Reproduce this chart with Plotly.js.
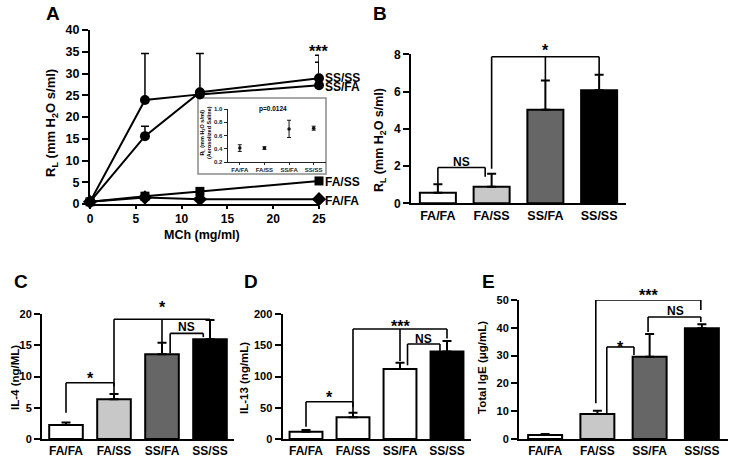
<!DOCTYPE html>
<html>
<head>
<meta charset="utf-8">
<script src="https://cdn.plot.ly/plotly-3.0.1.min.js"></script>
<style>html,body{margin:0;padding:0;background:#fff;}#chart{width:729px;height:459px;}</style>
</head>
<body>
<div id="chart"></div>
<script>
// ---------------- DATA ----------------
const groups = ['FA/FA', 'FA/SS', 'SS/FA', 'SS/SS'];

// Panel A: dose response
const mchDose = [0, 6, 12, 25];
const aSSSS = [0.5, 15.6, 25.7, 28.9];
const aSSSSerr = [0, 2.3, 0, 5.3];
const aSSFA = [0.5, 23.9, 25.2, 27.3];
const aSSFAerr = [0, 10.7, 9.4, 5.3];
const aFASS = [0.5, 1.8, 2.9, 5.3];
const aFAFA = [0.5, 1.5, 1.1, 1.1];
const aTicksX = [0, 5, 10, 15, 20, 25];
const aTicksY = [0, 5, 10, 15, 20, 25, 30, 35, 40];

// Inset: aerosolized saline
const insetVals = [0.41, 0.41, 0.70, 0.71];
const insetErr = [0.05, 0.02, 0.13, 0.03];
const insetTicks = [0.2, 0.4, 0.6, 0.8, 1.0];
const insetTickText = ['0.2', '0.4', '0.6', '0.8', '1.0'];

// Panel B: RL
const bVals = [0.57, 0.89, 5.02, 6.07];
const bErr = [0.45, 0.69, 1.57, 0.83];
const bTicks = [0, 2, 4, 6, 8];

// Panel C: IL-4
const cVals = [2.25, 6.35, 13.55, 15.95];
const cErr = [0.4, 0.85, 1.85, 3.1];
const cTicks = [0, 5, 10, 15, 20];

// Panel D: IL-13
const dVals = [11.5, 35, 112, 140];
const dErr = [2.8, 7, 10, 17];
const dTicks = [0, 50, 100, 150, 200];

// Panel E: Total IgE
const eVals = [1.45, 9.0, 29.6, 39.8];
const eErr = [0.35, 1.2, 8.2, 1.5];
const eTicks = [0, 10, 20, 30, 40, 50];

// significance brackets
const sigB = [
  {x: [0, 0.88], y: [1.05, 1.42], top: 1.92, label: 'NS', lx: 0.44, ly: 2.22},
  {x: [1.0, 3.0], y: [1.85, 6.92], top: 7.87, mid: [2.0, 6.62], label: '*', lx: 2.0, ly: 8.42}
];
const sigC = [
  {x: [0, 1], y: [4.2, 7.3], top: 9.0, label: '*', lx: 0.5, ly: 10.4},
  {x: [1, 3], y: [8.4, 17.7], top: 19.15, mid: [2.0, 15.4], label: '*', lx: 2.0, ly: 21.7},
  {x: [2.17, 2.86], y: [13.7, 16.3], top: 16.9, label: 'NS', lx: 2.5, ly: 18.0}
];
const sigD = [
  {x: [0, 1], y: [19.7, 50.7], top: 59.7, label: '*', lx: 0.5, ly: 73},
  {x: [1, 3], y: [41, 161], top: 176, mid: [2.0, 125], label: '***', lx: 2.0, ly: 186},
  {x: [2.16, 2.85], y: [118, 141], top: 152, label: 'NS', lx: 2.5, ly: 159.5}
];
const sigE = [
  {x: [0.97, 2.98], y: [12.9, 46.4], top: 50, label: '***', lx: 1.97, ly: 53.2},
  {x: [1.18, 1.70], y: [9.35, 30.2], top: 33.1, label: '*', lx: 1.44, ly: 34.5},
  {x: [1.97, 2.98], y: [38.5, 42.1], top: 43.9, label: 'NS', lx: 2.5, ly: 46}
];

// ---------------- LAYOUT HELPERS ----------------
const W = 729, H = 459;
const px = v => v / W;
const py = v => 1 - v / H;
const FONT = 'Liberation Sans, Arial, sans-serif';
const barColors = ['#ffffff', '#c8c8c8', '#666666', '#000000'];
const barColorsD = ['#ffffff', '#ffffff', '#ffffff', '#000000'];

function errUp(arr, w, th) {
  return {type: 'data', symmetric: false, array: arr, arrayminus: arr.map(() => 0),
          color: '#000', thickness: th || 2, width: w || 4, visible: true};
}

const traces = [];
function lineTrace(y, err, symbol, size) {
  const t = {x: mchDose, y: y, xaxis: 'x', yaxis: 'y', type: 'scatter', mode: 'lines+markers',
    line: {color: '#000', width: 2}, marker: {color: '#000', symbol: symbol, size: size},
    cliponaxis: false, hoverinfo: 'skip'};
  if (err) t.error_y = errUp(err, 4, 1.5);
  return t;
}
traces.push(lineTrace(aFAFA, null, 'diamond', 11));
traces.push(lineTrace(aFASS, null, 'square', 9));
traces.push(lineTrace(aSSFA, aSSFAerr, 'circle', 10));
traces.push(lineTrace(aSSSS, aSSSSerr, 'circle', 10));

// inset
traces.push({x: groups, y: insetVals, xaxis: 'x2', yaxis: 'y2', type: 'scatter', mode: 'markers',
  marker: {color: '#111', size: 3.5, symbol: 'circle'},
  error_y: {type: 'data', array: insetErr, color: '#111', thickness: 1, width: 2},
  cliponaxis: false, hoverinfo: 'skip'});

function barTrace(vals, err, colors, xa, ya, width) {
  return {x: groups, y: vals, xaxis: xa, yaxis: ya, type: 'bar', width: width,
    marker: {color: colors, line: {color: '#000', width: 2}},
    error_y: errUp(err, 4.5, 2), cliponaxis: false, hoverinfo: 'skip'};
}
traces.push(barTrace(bVals, bErr, barColors, 'x3', 'y3', 0.67));
traces.push(barTrace(cVals, cErr, barColors, 'x4', 'y4', 0.7));
traces.push(barTrace(dVals, dErr, barColorsD, 'x5', 'y5', 0.7));
traces.push(barTrace(eVals, eErr, barColors, 'x6', 'y6', 0.65));

function numAxis(domain, range, tickvals, anchor, fs, extra) {
  return Object.assign({domain: domain, range: range, tickvals: tickvals, ticktext: tickvals.map(String),
    anchor: anchor, showline: true, linecolor: '#000', linewidth: 2, ticks: 'outside', ticklen: 6,
    tickwidth: 2, tickcolor: '#000', showgrid: false, zeroline: false, fixedrange: true,
    tickfont: {family: FONT, size: fs, color: '#000', weight: 'bold'}}, extra || {});
}
function catAxis(domain, anchor, fs) {
  return {domain: domain, type: 'category', range: [-0.5, 3.5], anchor: anchor, showline: true,
    linecolor: '#000', linewidth: 2, ticks: '', showgrid: false, zeroline: false, fixedrange: true,
    tickfont: {family: FONT, size: fs, color: '#000', weight: 'bold'}};
}

const layout = {
  width: W, height: H, margin: {l: 0, r: 0, t: 0, b: 0}, showlegend: false,
  paper_bgcolor: '#fff', plot_bgcolor: 'rgba(0,0,0,0)',
  font: {family: FONT, color: '#000'},
  // Panel A
  xaxis: numAxis([px(90), px(319)], [0, 25], aTicksX, 'y', 12, {ticklen: 3}),
  yaxis: numAxis([py(204), py(30)], [0, 40], aTicksY, 'x', 12.5),
  // Inset
  xaxis2: {domain: [px(227.5), px(326)], type: 'category', range: [-0.5, 3.5], anchor: 'y2',
    showline: true, linecolor: '#222', linewidth: 1, ticks: 'outside', ticklen: 2, tickwidth: 1,
    tickcolor: '#222', showgrid: false, zeroline: false, fixedrange: true,
    tickfont: {family: FONT, size: 6, color: '#222', weight: 'bold'}},
  yaxis2: {domain: [py(162), py(109)], range: [0.2, 1.0], anchor: 'x2', tickvals: insetTicks,
    ticktext: insetTickText, showline: true, linecolor: '#222', linewidth: 1, ticks: 'outside',
    ticklen: 3, tickwidth: 1, tickcolor: '#222', showgrid: false, zeroline: false, fixedrange: true,
    tickfont: {family: FONT, size: 6, color: '#222', weight: 'bold'}},
  // Panel B
  xaxis3: catAxis([px(411), px(626)], 'y3', 12.5),
  yaxis3: numAxis([py(203.3), py(54.3)], [0, 8], bTicks, 'x3', 12),
  // Panel C
  xaxis4: catAxis([px(42), px(234)], 'y4', 12),
  yaxis4: numAxis([py(439), py(314)], [0, 20], cTicks, 'x4', 11),
  // Panel D
  xaxis5: catAxis([px(282.5), px(470.5)], 'y5', 12),
  yaxis5: numAxis([py(439), py(314)], [0, 200], dTicks, 'x5', 11),
  // Panel E
  xaxis6: catAxis([px(519), px(728)], 'y6', 12),
  yaxis6: numAxis([py(439), py(300)], [0, 50], eTicks, 'x6', 11),
  shapes: [],
  annotations: []
};

// inset frame
layout.shapes.push({type: 'rect', xref: 'paper', yref: 'paper', x0: px(198), x1: px(326),
  y0: py(174), y1: py(98), line: {color: '#8a8a8a', width: 1.5}, fillcolor: '#fff', layer: 'below'});

// data -> paper helpers (annotations outside axis range are otherwise hidden)
function toPaper(ax, v) {
  const d = layout[ax].domain, r = layout[ax].range;
  return d[0] + (v - r[0]) / (r[1] - r[0]) * (d[1] - d[0]);
}

function addBrackets(list, n) {
  const xa = 'x' + n, ya = 'y' + n;
  list.forEach(b => {
    const L = {type: 'line', xref: xa, yref: ya, line: {color: '#000', width: 1.6}};
    layout.shapes.push(Object.assign({}, L, {x0: b.x[0], x1: b.x[0], y0: b.y[0], y1: b.top}));
    layout.shapes.push(Object.assign({}, L, {x0: b.x[1], x1: b.x[1], y0: b.y[1], y1: b.top}));
    layout.shapes.push(Object.assign({}, L, {x0: b.x[0], x1: b.x[1], y0: b.top, y1: b.top}));
    if (b.mid) layout.shapes.push(Object.assign({}, L, {x0: b.mid[0], x1: b.mid[0], y0: b.mid[1], y1: b.top}));
    const star = b.label.indexOf('*') >= 0;
    layout.annotations.push({xref: 'paper', yref: 'paper',
      x: toPaper('xaxis' + n, b.lx), y: toPaper('yaxis' + n, b.ly),
      text: '<b>' + b.label + '</b>',
      showarrow: false, xanchor: 'center', yanchor: 'middle', yshift: star ? -4 : 0,
      font: {family: FONT, size: star ? 16 : 12, color: '#000'}});
  });
}
addBrackets(sigB, 3);
addBrackets(sigC, 4);
addBrackets(sigD, 5);
addBrackets(sigE, 6);

function pann(x, y, text, size, extra) {
  layout.annotations.push(Object.assign({xref: 'paper', yref: 'paper', x: px(x), y: py(y),
    text: text, showarrow: false, xanchor: 'center', yanchor: 'middle',
    font: {family: FONT, size: size, color: '#000'}}, extra || {}));
}
// panel letters
pann(53, 14, '<b>A</b>', 19);
pann(380, 14, '<b>B</b>', 19);
pann(21, 281, '<b>C</b>', 19);
pann(251, 281, '<b>D</b>', 19);
pann(488, 281, '<b>E</b>', 19);
// axis titles
pann(52, 123, '<b>R<sub>L</sub> (mm H<sub>2</sub>O s/ml)</b>', 13, {textangle: -90});
pann(202, 235, '<b>MCh (mg/ml)</b>', 12.5);
pann(380, 140, '<b>R<sub>L</sub> (mm H<sub>2</sub>O s/ml)</b>', 12.5, {textangle: -90});
pann(15, 378, '<b>IL-4 (ng/ML)</b>', 11.5, {textangle: -90});
pann(244, 378, '<b>IL-13 (ng/mL)</b>', 11.5, {textangle: -90});
pann(482, 368, '<b>Total IgE (\u03bcg/mL)</b>', 11.5, {textangle: -90});
// inset texts
pann(205, 133, '<b>R<sub>L</sub> (mm H<sub>2</sub>O s/ml)<br>(Aerosolized Saline)</b>', 5.5, {textangle: -90});
pann(273, 109, '<b>p=0.0124</b>', 6.5);

// Panel A series labels and significance
function aann(y, text) {
  layout.annotations.push({xref: 'x', yref: 'y', x: 25, y: y, xshift: 4, text: '<b>' + text + '</b>',
    showarrow: false, xanchor: 'left', yanchor: 'middle', font: {family: FONT, size: 12, color: '#000'}});
}
aann(29.0, 'SS/SS');
aann(26.9, 'SS/FA');
aann(5.06, 'FA/SS');
aann(0.7, 'FA/FA');
layout.annotations.push({xref: 'x', yref: 'y', x: 24.9, y: 35.9, yshift: -4, text: '<b>***</b>',
  showarrow: false, xanchor: 'center', yanchor: 'middle', font: {family: FONT, size: 16, color: '#000'}});

Plotly.newPlot('chart', traces, layout, {staticPlot: true, displayModeBar: false});
</script>
</body>
</html>
